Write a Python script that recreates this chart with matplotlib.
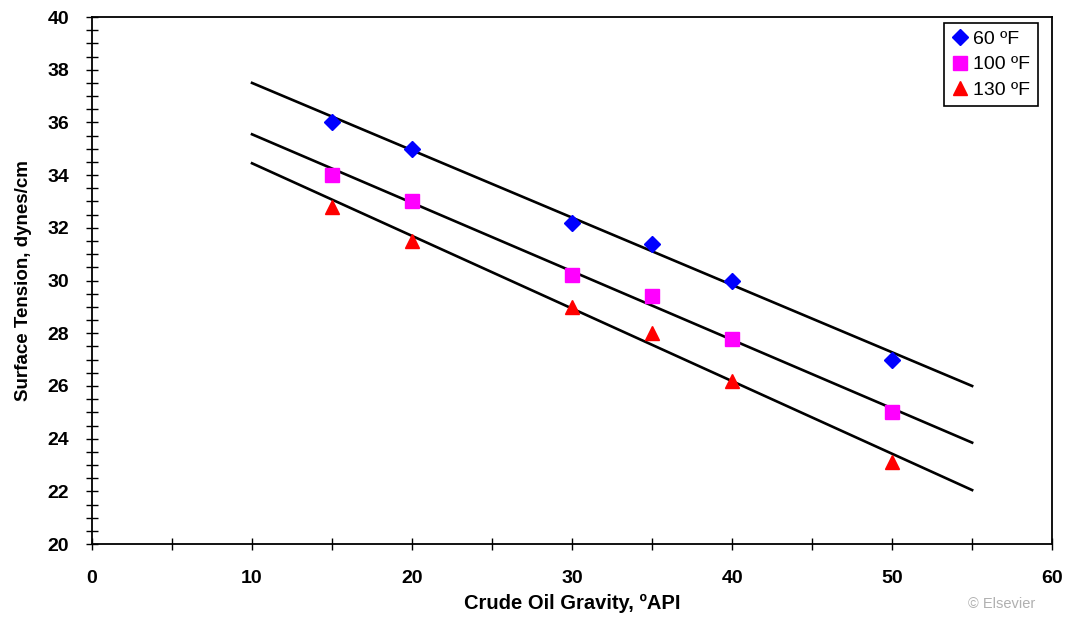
import matplotlib.pyplot as plt
from matplotlib.ticker import MultipleLocator

plt.rcParams['font.family'] = ['Liberation Sans', 'DejaVu Sans']

# measured surface tension at each crude gravity
api = [15, 20, 30, 35, 40, 50]
st_60 = [36.0, 35.0, 32.2, 31.4, 30.0, 27.0]
st_100 = [34.0, 33.0, 30.2, 29.4, 27.8, 25.0]
st_130 = [32.8, 31.5, 29.0, 28.0, 26.2, 23.1]

# trend line end points
line_x = [10, 55]
line_60 = [37.5, 26.0]
line_100 = [35.55, 23.85]
line_130 = [34.45, 22.05]

fig = plt.figure(figsize=(10.66, 6.19), dpi=100)
ax = fig.add_axes([0.0863, 0.121, 0.9007, 0.8515])

ax.plot(line_x, line_60, color='black', lw=1.9, zorder=2)
ax.plot(line_x, line_100, color='black', lw=1.9, zorder=2)
ax.plot(line_x, line_130, color='black', lw=1.9, zorder=2)

ax.plot(api, st_60, 'D', color='#0000ff', ms=8, ls='none', label='60 ºF', zorder=3)
ax.plot(api, st_100, 's', color='#ff00ff', ms=10, ls='none', label='100 ºF', zorder=3)
ax.plot(api, st_130, '^', color='#ff0000', ms=10, ls='none', label='130 ºF', zorder=3)

ax.set_xlim(0, 60)
ax.set_ylim(20, 40)
ax.xaxis.set_major_locator(MultipleLocator(10))
ax.xaxis.set_minor_locator(MultipleLocator(5))
ax.yaxis.set_major_locator(MultipleLocator(2))
ax.yaxis.set_minor_locator(MultipleLocator(0.5))
ax.tick_params(which='both', direction='inout', width=1)
ax.tick_params(which='major', length=9)
ax.tick_params(which='minor', length=8)
ax.tick_params(axis='x', pad=14)
ax.tick_params(axis='y', pad=12)
for lab in ax.get_xticklabels() + ax.get_yticklabels():
    lab.set_fontsize(14)
    lab.set_fontweight('bold')
for s in ax.spines.values():
    s.set_linewidth(1.3)

ax.set_xlabel('Crude Oil Gravity, ºAPI', fontsize=14.5, fontweight='bold', labelpad=5)
ax.set_ylabel('Surface Tension, dynes/cm', fontsize=13.5, fontweight='bold', labelpad=11)

leg = ax.legend(loc='upper right', bbox_to_anchor=(0.9955, 1.008), fontsize=14,
                fancybox=False, framealpha=1, edgecolor='black',
                handlelength=0.8, handletextpad=0.3, borderpad=0.4, labelspacing=0.4)
leg.get_frame().set_linewidth(1.2)

fig.text(0.94, 0.018, '© Elsevier', color='#b0b0b0', fontsize=10.5, ha='center')

fig.savefig('out.png', dpi=100)
